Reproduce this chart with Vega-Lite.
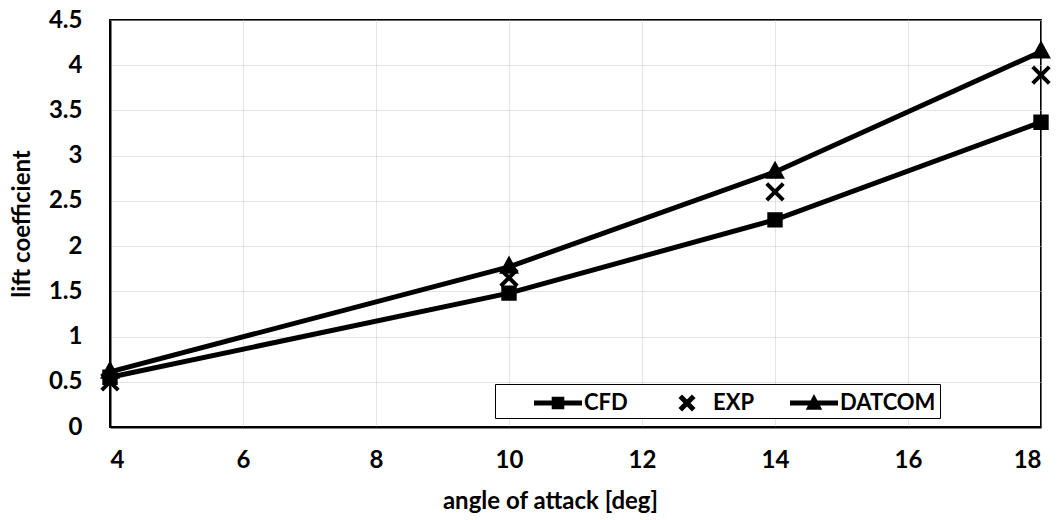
{
  "$schema": "https://vega.github.io/schema/vega-lite/v6.json",
  "width": 931,
  "height": 407,
  "autosize": {"type": "none"},
  "padding": {"left": 110, "top": 20, "right": 20, "bottom": 93},
  "background": "white",
  "data": {"values": [
    {"aoa": 4, "cl": 0.55, "series": "CFD"},
    {"aoa": 10, "cl": 1.48, "series": "CFD"},
    {"aoa": 14, "cl": 2.29, "series": "CFD"},
    {"aoa": 18, "cl": 3.37, "series": "CFD"},
    {"aoa": 4, "cl": 0.5, "series": "EXP"},
    {"aoa": 10, "cl": 1.65, "series": "EXP"},
    {"aoa": 14, "cl": 2.6, "series": "EXP"},
    {"aoa": 18, "cl": 3.89, "series": "EXP"},
    {"aoa": 4, "cl": 0.61, "series": "DATCOM"},
    {"aoa": 10, "cl": 1.77, "series": "DATCOM"},
    {"aoa": 14, "cl": 2.82, "series": "DATCOM"},
    {"aoa": 18, "cl": 4.15, "series": "DATCOM"}
  ]},
  "config": {
    "font": "Lato",
    "view": {"stroke": "black", "strokeWidth": 2},
    "axis": {
      "labelFont": "Lato", "labelFontWeight": "bold", "labelFontSize": 24, "labelColor": "black",
      "titleFont": "Lato", "titleFontWeight": "bold", "titleFontSize": 24, "titleColor": "black",
      "ticks": false, "domainColor": "black", "domainWidth": 2,
      "gridColor": "#c8c8c8", "gridWidth": 1, "gridDash": [1, 1]
    }
  },
  "encoding": {
    "x": {"field": "aoa", "type": "quantitative",
      "scale": {"domain": [4, 18], "nice": false, "zero": false},
      "axis": {"values": [4, 6, 8, 10, 12, 14, 16, 18], "format": "~g", "title": "angle of attack [deg]", "labelPadding": 21, "titlePadding": 17, "titleX": 440}},
    "y": {"field": "cl", "type": "quantitative",
      "scale": {"domain": [0, 4.5], "nice": false},
      "axis": {"values": [0, 0.5, 1, 1.5, 2, 2.5, 3, 3.5, 4, 4.5], "format": "~g", "title": "lift coefficient", "labelPadding": 28, "titlePadding": 14}}
  },
  "layer": [
    {
      "transform": [{"filter": "datum.series !== 'EXP'"}],
      "mark": {"type": "line", "color": "black", "strokeWidth": 5},
      "encoding": {"detail": {"field": "series"}}
    },
    {
      "mark": {"type": "point", "filled": true, "color": "black", "stroke": "black", "strokeWidth": 4, "size": 130, "opacity": 1},
      "encoding": {
        "shape": {"field": "series", "type": "nominal",
          "scale": {"domain": ["CFD", "EXP", "DATCOM"], "range": ["square", "M-1.45,-1.45L1.45,1.45M-1.45,1.45L1.45,-1.45", "M0,-1.25L1.15,0.85H-1.15Z"]},
          "legend": null}
      }
    },
    {
      "transform": [{"filter": "datum.aoa < 0"}],
      "mark": {"type": "point", "filled": true, "color": "black", "opacity": 1},
      "encoding": {
        "shape": {"field": "series", "type": "nominal",
          "scale": {"domain": ["CFD", "EXP", "DATCOM"], "range": [
            "M-1.6,-0.16H1.6V0.16H-1.6Z M-0.42,-0.42H0.42V0.42H-0.42Z",
            "M-1.6,0H1.6Z M-0.33,-0.57L0.57,0.33L0.33,0.57L-0.57,-0.33Z M-0.57,0.33L0.33,-0.57L0.57,-0.33L-0.33,0.57Z",
            "M-1.6,-0.16H1.6V0.16H-1.6Z M0,-0.6L0.55,0.45H-0.55Z"]},
          "legend": {
            "title": null, "orient": "none", "legendX": 385, "legendY": 364,
            "direction": "horizontal",
            "strokeColor": "black", "fillColor": "white",
            "padding": 4, "symbolOffset": 44, "columnPadding": -6,
            "symbolSize": 900, "symbolStrokeWidth": 0, "symbolFillColor": "black", "symbolOpacity": 1,
            "labelFont": "Lato", "labelFontWeight": "bold", "labelFontSize": 22, "labelColor": "black", "labelOffset": 11,
            "encode": {
              "legend": {"update": {"strokeWidth": {"value": 1.5}}}
            }
          }}
      }
    }
  ],
  "resolve": {"scale": {"shape": "independent"}, "legend": {"shape": "independent"}}
}
